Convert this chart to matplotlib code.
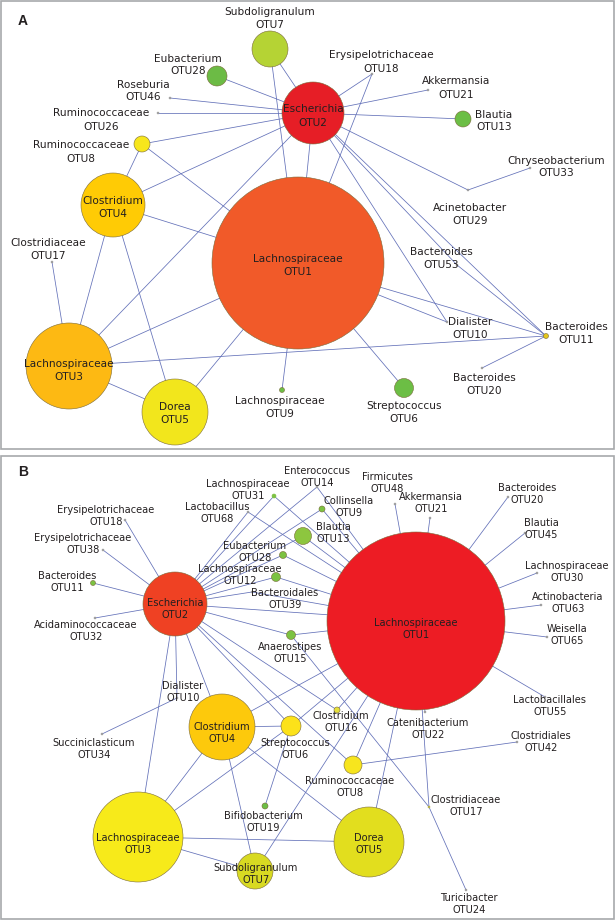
import matplotlib
matplotlib.use("Agg")
import matplotlib.pyplot as plt
from matplotlib.patches import Circle, Rectangle
from matplotlib.collections import LineCollection

plt.rcParams['font.family'] = ['DejaVu Sans']

# ---------------- Panel A data ----------------
A_otus = ["OTU1", "OTU2", "OTU3", "OTU4", "OTU5", "OTU6", "OTU7", "OTU8", "OTU9",
          "OTU10", "OTU11", "OTU13", "OTU17", "OTU18", "OTU20", "OTU21", "OTU26",
          "OTU28", "OTU29", "OTU33", "OTU46", "OTU53"]
A_taxa = ["Lachnospiraceae", "Escherichia", "Lachnospiraceae", "Clostridium", "Dorea",
          "Streptococcus", "Subdoligranulum", "Ruminococcaceae", "Lachnospiraceae",
          "Dialister", "Bacteroides", "Blautia", "Clostridiaceae", "Erysipelotrichaceae",
          "Bacteroides", "Akkermansia", "Ruminococcaceae", "Eubacterium", "Acinetobacter",
          "Chryseobacterium", "Roseburia", "Bacteroides"]
A_size = [86, 31, 43, 32, 33, 9.5, 18, 8, 2.5, 1, 2.5, 8, 1, 1, 1, 1, 1, 10, 1, 1, 1, 1]
A_colors = ["#F15A29", "#E61E26", "#FDB913", "#FFCB05", "#F2E61C", "#6CBE45", "#B5D334",
            "#F7E61C", "#6CBE45", "#9A9A9A", "#E5C71B", "#6CBE45", "#9A9A9A", "#9A9A9A",
            "#9A9A9A", "#9A9A9A", "#9A9A9A", "#6CBB45", "#9A9A9A", "#9A9A9A", "#9A9A9A",
            "#9A9A9A"]
A_edges = [("OTU1", "OTU2"), ("OTU7", "OTU2"), ("OTU7", "OTU1"), ("OTU28", "OTU2"),
           ("OTU46", "OTU2"), ("OTU26", "OTU2"), ("OTU8", "OTU2"), ("OTU8", "OTU4"),
           ("OTU8", "OTU1"), ("OTU4", "OTU2"), ("OTU4", "OTU1"), ("OTU4", "OTU3"),
           ("OTU4", "OTU5"), ("OTU17", "OTU3"), ("OTU3", "OTU2"), ("OTU3", "OTU1"),
           ("OTU3", "OTU11"), ("OTU3", "OTU5"), ("OTU5", "OTU1"), ("OTU1", "OTU9"),
           ("OTU1", "OTU6"), ("OTU1", "OTU10"), ("OTU1", "OTU11"), ("OTU18", "OTU2"),
           ("OTU18", "OTU1"), ("OTU2", "OTU21"), ("OTU2", "OTU13"), ("OTU2", "OTU29"),
           ("OTU29", "OTU33"), ("OTU2", "OTU10"), ("OTU2", "OTU11"), ("OTU2", "OTU53"),
           ("OTU53", "OTU11"), ("OTU11", "OTU20")]

# ---------------- Panel B data ----------------
B_otus = ["OTU1", "OTU2", "OTU3", "OTU4", "OTU5", "OTU6", "OTU7", "OTU8", "OTU9", "OTU10",
          "OTU11", "OTU12", "OTU13", "OTU14", "OTU15", "OTU16", "OTU17", "OTU18", "OTU19",
          "OTU20", "OTU21", "OTU22", "OTU24", "OTU28", "OTU30", "OTU31", "OTU32", "OTU34",
          "OTU38", "OTU39", "OTU42", "OTU45", "OTU48", "OTU55", "OTU63", "OTU65", "OTU68"]
B_taxa = ["Lachnospiraceae", "Escherichia", "Lachnospiraceae", "Clostridium", "Dorea",
          "Streptococcus", "Subdoligranulum", "Ruminococcaceae", "Collinsella", "Dialister",
          "Bacteroides", "Lachnospiraceae", "Blautia", "Enterococcus", "Anaerostipes",
          "Clostridium", "Clostridiaceae", "Erysipelotrichaceae", "Bifidobacterium",
          "Bacteroides", "Akkermansia", "Catenibacterium", "Turicibacter", "Eubacterium",
          "Lachnospiraceae", "Lachnospiraceae", "Acidaminococcaceae", "Succiniclasticum",
          "Erysipelotrichaceae", "Bacteroidales", "Clostridiales", "Blautia", "Firmicutes",
          "Lactobacillales", "Actinobacteria", "Weisella", "Lactobacillus"]
B_size = [89, 32, 45, 33, 35, 10, 18, 9, 3, 1, 2.5, 4.5, 8.5, 1, 4.5, 3, 1, 1, 3,
          1, 1, 1, 1, 3.5, 1, 2, 1, 1, 1, 1, 1, 1, 1, 1, 1, 1, 1]
B_colors = ["#ED1C24", "#EF4123", "#F7EA1A", "#FDC90C", "#E2DE1E", "#FCE21A", "#D8DA22",
            "#F7E51E", "#7CC242", "#9A9A9A", "#7CC242", "#7CC242", "#8DC63F", "#9A9A9A",
            "#7CC242", "#E6E03A", "#B8B040", "#9A9A9A", "#6CBE45", "#9A9A9A", "#9A9A9A",
            "#9A9A9A", "#9A9A9A", "#7CC242", "#9A9A9A", "#7CC242", "#9A9A9A", "#9A9A9A",
            "#9A9A9A", "#9A9A9A", "#9A9A9A", "#9A9A9A", "#9A9A9A", "#9A9A9A", "#9A9A9A",
            "#9A9A9A", "#9A9A9A"]
B_edges = [("OTU2", "OTU18"), ("OTU2", "OTU38"), ("OTU2", "OTU11"), ("OTU2", "OTU32"),
           ("OTU2", "OTU31"), ("OTU2", "OTU68"), ("OTU2", "OTU14"), ("OTU2", "OTU9"),
           ("OTU2", "OTU13"), ("OTU2", "OTU28"), ("OTU2", "OTU12"), ("OTU2", "OTU39"),
           ("OTU2", "OTU1"), ("OTU2", "OTU15"), ("OTU2", "OTU10"), ("OTU2", "OTU3"),
           ("OTU2", "OTU4"), ("OTU2", "OTU6"), ("OTU2", "OTU8"), ("OTU2", "OTU16"),
           ("OTU1", "OTU14"), ("OTU1", "OTU31"), ("OTU1", "OTU68"), ("OTU1", "OTU9"),
           ("OTU1", "OTU13"), ("OTU1", "OTU28"), ("OTU1", "OTU12"), ("OTU1", "OTU39"),
           ("OTU1", "OTU15"), ("OTU1", "OTU48"), ("OTU1", "OTU21"), ("OTU1", "OTU20"),
           ("OTU1", "OTU45"), ("OTU1", "OTU30"), ("OTU1", "OTU63"), ("OTU1", "OTU65"),
           ("OTU1", "OTU55"), ("OTU1", "OTU22"), ("OTU1", "OTU17"), ("OTU1", "OTU5"),
           ("OTU1", "OTU8"), ("OTU1", "OTU16"), ("OTU1", "OTU4"), ("OTU1", "OTU7"),
           ("OTU1", "OTU6"), ("OTU3", "OTU4"), ("OTU3", "OTU5"), ("OTU3", "OTU7"),
           ("OTU3", "OTU6"), ("OTU4", "OTU6"), ("OTU4", "OTU5"), ("OTU4", "OTU7"),
           ("OTU6", "OTU19"), ("OTU8", "OTU42"), ("OTU17", "OTU24"), ("OTU17", "OTU15"),
           ("OTU10", "OTU34")]

# ---------------- Layout (pixel positions of nodes and their labels) ----------------
A_layout = {
    "OTU1": (298, 263), "OTU2": (313, 113), "OTU3": (69, 366), "OTU4": (113, 205),
    "OTU5": (175, 412), "OTU6": (404, 388), "OTU7": (270, 49), "OTU8": (142, 144),
    "OTU9": (282, 390), "OTU10": (447, 322), "OTU11": (546, 336), "OTU13": (463, 119),
    "OTU17": (52, 262), "OTU18": (372, 74), "OTU20": (482, 368), "OTU21": (428, 90),
    "OTU26": (158, 113), "OTU28": (217, 76), "OTU29": (468, 190), "OTU33": (530, 168),
    "OTU46": (170, 98), "OTU53": (457, 265),
}
A_label_at = {
    "OTU1": (298, 265), "OTU2": (313, 116), "OTU3": (69, 370), "OTU4": (113, 207),
    "OTU5": (175, 413), "OTU6": (404, 412), "OTU7": (270, 18.5), "OTU8": (81, 152),
    "OTU9": (280, 407), "OTU10": (470, 328), "OTU11": (576, 333), "OTU13": (494, 121),
    "OTU17": (48, 249), "OTU18": (381, 62), "OTU20": (484, 384), "OTU21": (456, 88),
    "OTU26": (101, 120), "OTU28": (188, 65), "OTU29": (470, 214), "OTU33": (556, 167),
    "OTU46": (143, 91), "OTU53": (441, 258),
}
B_layout = {
    "OTU1": (416, 621), "OTU2": (175, 604), "OTU3": (138, 837), "OTU4": (222, 727),
    "OTU5": (369, 842), "OTU6": (291, 726), "OTU7": (255, 871), "OTU8": (353, 765),
    "OTU9": (322, 509), "OTU10": (177, 698), "OTU11": (93, 583), "OTU12": (276, 577),
    "OTU13": (303, 536), "OTU14": (317, 487), "OTU15": (291, 635), "OTU16": (337, 710),
    "OTU17": (429, 807), "OTU18": (125, 520), "OTU19": (265, 806), "OTU20": (508, 497),
    "OTU21": (430, 518), "OTU22": (425, 712), "OTU24": (466, 890), "OTU28": (283, 555),
    "OTU30": (537, 573), "OTU31": (274, 496), "OTU32": (95, 618), "OTU34": (102, 734),
    "OTU38": (103, 550), "OTU39": (252, 592), "OTU42": (517, 742), "OTU45": (525, 533),
    "OTU48": (395, 504), "OTU55": (545, 697), "OTU63": (541, 605), "OTU65": (547, 637),
    "OTU68": (248, 512),
}
B_label_at = {
    "OTU1": (416, 629), "OTU2": (175, 609), "OTU3": (138, 844), "OTU4": (222, 733),
    "OTU5": (369, 844), "OTU6": (295, 749), "OTU7": (256, 874), "OTU8": (350, 787),
    "OTU9": (349, 507), "OTU10": (183, 692), "OTU11": (67, 582), "OTU12": (240, 575),
    "OTU13": (333, 533), "OTU14": (317, 477), "OTU15": (290, 653), "OTU16": (341, 722),
    "OTU17": (466, 806), "OTU18": (106, 516), "OTU19": (263, 822), "OTU20": (527, 494),
    "OTU21": (431, 503), "OTU22": (428, 729), "OTU24": (469, 904), "OTU28": (255, 552),
    "OTU30": (567, 572), "OTU31": (248, 490), "OTU32": (86, 631), "OTU34": (94, 749),
    "OTU38": (83, 544), "OTU39": (285, 599), "OTU42": (541, 742), "OTU45": (541, 529),
    "OTU48": (387, 483), "OTU55": (550, 706), "OTU63": (568, 603), "OTU65": (567, 635),
    "OTU68": (217, 513),
}

EDGE_COLOR = "#6270B8"
TEXT_COLOR = "#231F20"

fig = plt.figure(figsize=(6.16, 9.21), dpi=100)
ax = fig.add_axes([0, 0, 1, 1])
ax.set_xlim(0, 616)
ax.set_ylim(921, 0)
ax.axis("off")

# panel frames
ax.add_patch(Rectangle((1, 1), 612.5, 448, fill=False, edgecolor="#A7A9AC", lw=1.2, zorder=0))
ax.add_patch(Rectangle((1, 456), 612.5, 463, fill=False, edgecolor="#A7A9AC", lw=1.2, zorder=0))


def draw_network(otus, taxa, sizes, colors, edges, layout, label_at, fs, gap):
    segs = [[layout[a], layout[b]] for a, b in edges]
    ax.add_collection(LineCollection(segs, colors=EDGE_COLOR, linewidths=0.55, zorder=1))
    order = sorted(range(len(otus)), key=lambda i: -sizes[i])
    for i in order:
        x, y = layout[otus[i]]
        r = sizes[i]
        ax.add_patch(Circle((x, y), r, facecolor=colors[i],
                            edgecolor="#7A6A3A" if r > 2 else colors[i],
                            lw=0.4, zorder=2))
    for i, o in enumerate(otus):
        lx, ly = label_at[o]
        ax.text(lx, ly - gap / 2, taxa[i], ha="center", va="center", fontsize=fs,
                color=TEXT_COLOR, zorder=3)
        ax.text(lx, ly + gap / 2, o, ha="center", va="center", fontsize=fs,
                color=TEXT_COLOR, zorder=3)


draw_network(A_otus, A_taxa, A_size, A_colors, A_edges, A_layout, A_label_at, 7.6, 13)
draw_network(B_otus, B_taxa, B_size, B_colors, B_edges, B_layout, B_label_at, 7.1, 11.5)

ax.text(23, 21, "A", ha="center", va="center", fontsize=10, fontweight="bold",
        color=TEXT_COLOR, family="Liberation Sans")
ax.text(23, 472, "B", ha="center", va="center", fontsize=10, fontweight="bold",
        color=TEXT_COLOR, family="Liberation Sans")

fig.savefig("out.png", dpi=100)
